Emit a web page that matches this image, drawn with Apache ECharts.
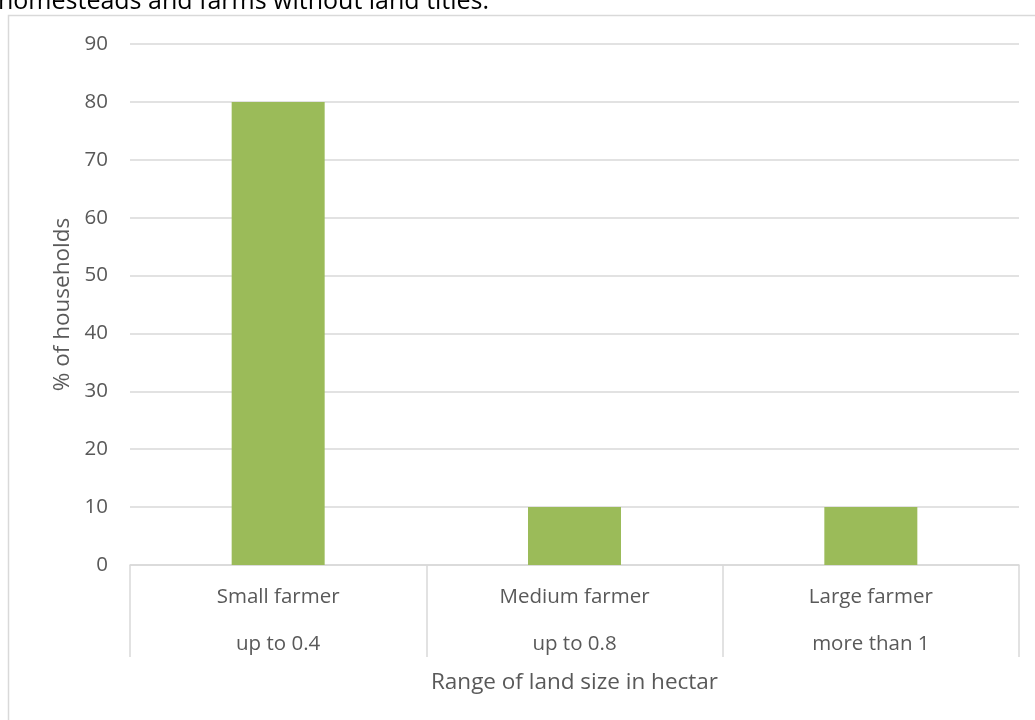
<!DOCTYPE html>
<html>
<head>
<meta charset="utf-8">
<script src="https://cdn.jsdelivr.net/npm/echarts@6/dist/echarts.min.js"></script>
<style>
  html, body { margin: 0; padding: 0; background: #ffffff; }
  #chart { width: 1035px; height: 720px; }
</style>
</head>
<body>
<div id="chart"></div>
<script>
// Farm size groups and their land-size ranges
const categories = ['Small farmer', 'Medium farmer', 'Large farmer'];
const ranges = ['up to 0.4', 'up to 0.8', 'more than 1'];
// Share of households in each group (%)
const households = [80, 10, 10];
const yTicks = { min: 0, max: 90, interval: 10 };

const FONT = '"Open Sans", Lato, sans-serif';
const TXT = '#595959';
const LINE = '#d9d9d9';

const chart = echarts.init(document.getElementById('chart'), null, { renderer: 'canvas' });

chart.setOption({
  animation: false,
  backgroundColor: '#ffffff',
  title: {
    text: 'homesteads and farms without land titles.',
    left: -7,
    top: -16,
    textStyle: { fontFamily: FONT, fontSize: 25, fontWeight: 'normal', color: '#000000' }
  },
  graphic: [{
    type: 'rect',
    shape: { x: 8.5, y: 15.5, width: 1040, height: 720 },
    style: { fill: null, stroke: LINE, lineWidth: 1.5 },
    silent: true,
    z: -1
  }],
  grid: { left: 130, right: 16, top: 44, bottom: 155 },
  xAxis: {
    type: 'category',
    data: categories,
    name: 'Range of land size in hectar',
    nameLocation: 'middle',
    nameGap: 106,
    nameTextStyle: { fontFamily: FONT, fontSize: 22.5, color: TXT },
    axisLine: { show: true, lineStyle: { color: LINE, width: 1.5 } },
    axisTick: { show: true, alignWithLabel: false, length: 92, lineStyle: { color: LINE, width: 1.5 } },
    axisLabel: {
      margin: 9,
      formatter: function (v, i) {
        return '{a|' + v + '}\n{b|' + ranges[i] + '}';
      },
      rich: {
        a: { fontFamily: FONT, fontSize: 20.5, color: TXT, lineHeight: 47, align: 'center' },
        b: { fontFamily: FONT, fontSize: 20.5, color: TXT, lineHeight: 47, align: 'center' }
      }
    }
  },
  yAxis: {
    type: 'value',
    min: yTicks.min,
    max: yTicks.max,
    interval: yTicks.interval,
    name: '% of households',
    nameLocation: 'middle',
    nameGap: 56,
    nameTextStyle: { fontFamily: FONT, fontSize: 22.5, color: TXT },
    axisLine: { show: false },
    axisTick: { show: false },
    axisLabel: { margin: 22, fontFamily: FONT, fontSize: 20.5, color: TXT },
    splitLine: { lineStyle: { color: LINE, width: 1.5 } }
  },
  series: [{
    type: 'bar',
    data: households,
    barWidth: 93,
    itemStyle: { color: '#9bbb59' }
  }]
});
</script>
</body>
</html>
